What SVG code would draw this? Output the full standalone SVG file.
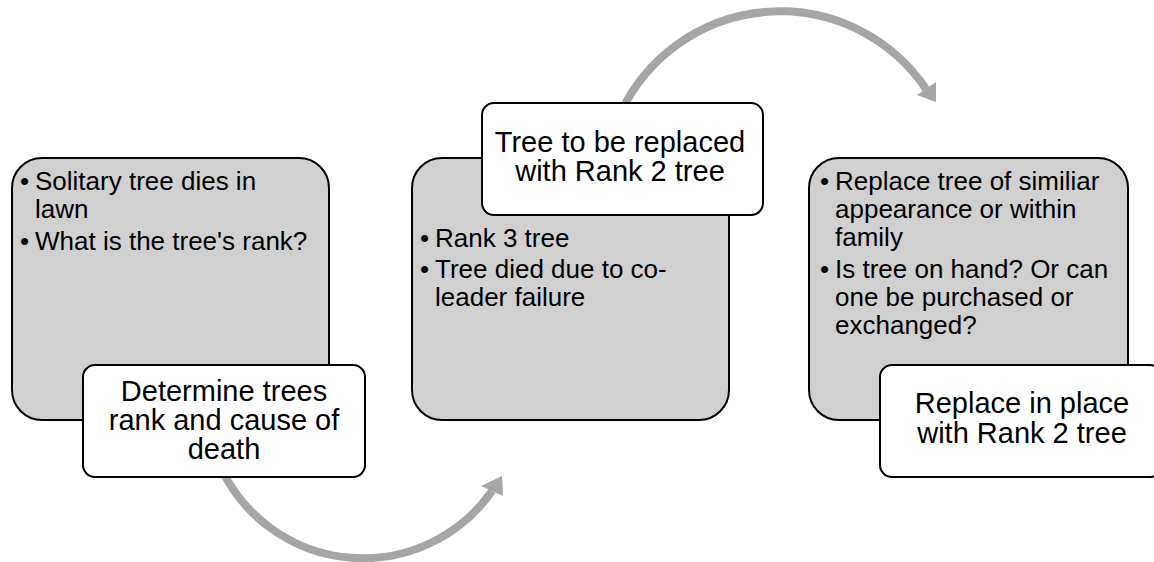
<svg xmlns="http://www.w3.org/2000/svg" width="1154" height="562" viewBox="0 0 1154 562">
<style>
.gray{fill:#D0D0D0;stroke:#000;stroke-width:2}
.white{fill:#FFF;stroke:#000;stroke-width:2}
.bt{font-family:"Liberation Sans",Arial,sans-serif;font-size:26px;fill:#000}
.wt{font-family:"Liberation Sans",Arial,sans-serif;font-size:29px;fill:#000;text-anchor:middle}
.arc{fill:none;stroke:#A6A6A6;stroke-width:8}
.head{fill:#A6A6A6}
</style>
<rect width="1154" height="562" fill="#FFF"/>
<g id="connectors">
<path class="arc" d="M 222 470 A 157 157 0 0 0 492 491"/>
<polygon class="head" points="502,476 481,486 503,496"/>
<path class="arc" d="M 622 110 A 176 176 0 0 1 926 89"/>
<polygon class="head" points="936,102 917,95 936,82"/>
</g>
<g id="node1">
<rect class="gray" x="12" y="158" width="317" height="262" rx="30"/>
<text class="bt" x="20" y="190">•</text>
<text class="bt" x="35" y="190">Solitary tree dies in</text>
<text class="bt" x="35" y="218">lawn</text>
<text class="bt" x="20" y="250">•</text>
<text class="bt" x="35" y="250">What is the tree's rank?</text>
</g>
<g id="node1-label">
<rect class="white" x="83" y="365" width="282" height="112" rx="12"/>
<text class="wt" x="224" y="401">Determine trees</text>
<text class="wt" x="224" y="430">rank and cause of</text>
<text class="wt" x="224" y="459">death</text>
</g>
<g id="node2">
<rect class="gray" x="412" y="158" width="317" height="262" rx="30"/>
<text class="bt" x="420" y="247">•</text>
<text class="bt" x="435" y="247">Rank 3 tree</text>
<text class="bt" x="420" y="278">•</text>
<text class="bt" x="435" y="278">Tree died due to co-</text>
<text class="bt" x="435" y="306">leader failure</text>
</g>
<g id="node2-label">
<rect class="white" x="482" y="103" width="281" height="112" rx="12"/>
<text class="wt" x="620" y="152">Tree to be replaced</text>
<text class="wt" x="620" y="181">with Rank 2 tree</text>
</g>
<g id="node3">
<rect class="gray" x="809" y="158" width="319" height="262" rx="30"/>
<text class="bt" x="820" y="190">•</text>
<text class="bt" x="835" y="190">Replace tree of similiar</text>
<text class="bt" x="835" y="218">appearance or within</text>
<text class="bt" x="835" y="246">family</text>
<text class="bt" x="820" y="278">•</text>
<text class="bt" x="835" y="278">Is tree on hand? Or can</text>
<text class="bt" x="835" y="306">one be purchased or</text>
<text class="bt" x="835" y="334">exchanged?</text>
</g>
<g id="node3-label">
<rect class="white" x="880" y="365" width="282" height="112" rx="12"/>
<text class="wt" x="1022" y="413">Replace in place</text>
<text class="wt" x="1022" y="443">with Rank 2 tree</text>
</g>
</svg>
